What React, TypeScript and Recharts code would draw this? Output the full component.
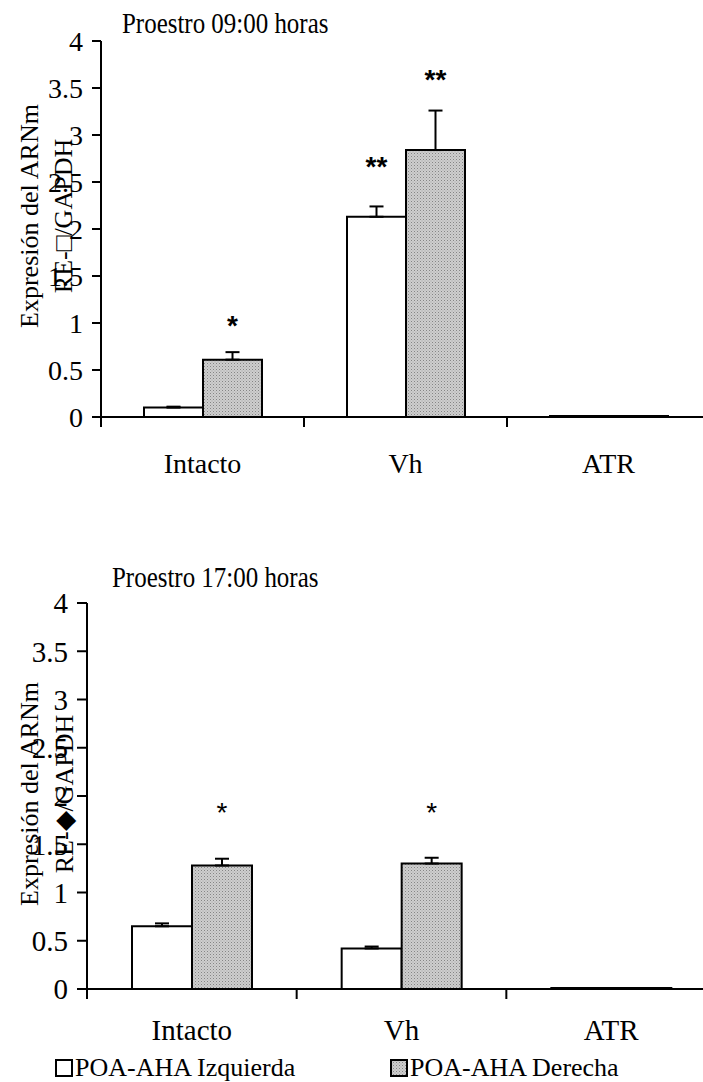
import React from 'react';
import { BarChart, Bar, XAxis, YAxis, ErrorBar, LabelList } from 'recharts';

// categories and axis ticks
const groups = ['Intacto', 'Vh', 'ATR'];
const yTicks = [0, 0.5, 1, 1.5, 2, 2.5, 3, 3.5, 4];
const seriesNames = ['POA-AHA Izquierda', 'POA-AHA Derecha'];

// Proestro 09:00 horas
const amIzq = [0.1, 2.13, 0.01];
const amIzqErr = [0.01, 0.11, 0];
const amDer = [0.61, 2.84, 0.01];
const amDerErr = [0.08, 0.42, 0];
const amIzqSig = ['', '**', ''];
const amIzqSigAt = [0, 2.7, 0];
const amDerSig = ['*', '**', ''];
const amDerSigAt = [1.01, 3.63, 0];

// Proestro 17:00 horas
const pmIzq = [0.65, 0.42, 0.01];
const pmIzqErr = [0.03, 0.02, 0];
const pmDer = [1.28, 1.3, 0.01];
const pmDerErr = [0.07, 0.06, 0];
const pmIzqSig = ['', '', ''];
const pmIzqSigAt = [0, 0, 0];
const pmDerSig = ['*', '*', ''];
const pmDerSigAt = [1.87, 1.87, 0];

const buildRows = (izq: number[], izqErr: number[], der: number[], derErr: number[],
  izqSig: string[], izqSigAt: number[], derSig: string[], derSigAt: number[]) =>
  groups.map((name, i) => ({
    name,
    izq: izq[i],
    der: der[i],
    izqErr: [0, izqErr[i]],
    derErr: [0, derErr[i]],
    izqSig: izqSig[i],
    izqSigAt: izqSigAt[i],
    derSig: derSig[i],
    derSigAt: derSigAt[i],
  }));

const amRows = buildRows(amIzq, amIzqErr, amDer, amDerErr, amIzqSig, amIzqSigAt, amDerSig, amDerSigAt);
const pmRows = buildRows(pmIzq, pmIzqErr, pmDer, pmDerErr, pmIzqSig, pmIzqSigAt, pmDerSig, pmDerSigAt);

const SERIF = "'Liberation Serif', 'Times New Roman', serif";
const SANS = "'Liberation Sans', Arial, sans-serif";

// category label + tick marks at the band edges
const CatTick = (props: any) => {
  const { x, y, payload, index, labelDy, tickLen, fontSize, bandHalf } = props;
  const half = payload && payload.offset ? payload.offset : bandHalf;
  return (
    <g>
      <line x1={x - half} y1={y} x2={x - half} y2={y + tickLen} stroke="#000" strokeWidth={2} />
      {index === groups.length - 1 && (
        <line x1={x + half} y1={y} x2={x + half} y2={y + tickLen} stroke="#000" strokeWidth={2} />
      )}
      <text x={x} y={y + labelDy} textAnchor="middle" fontSize={fontSize} fill="#000" fontFamily={SERIF}>
        {payload.value}
      </text>
    </g>
  );
};

// significance marks placed at a data level above the bar
const starContent = (rows: any[], key: string, bold: boolean) => (props: any) => {
  const vb = props.viewBox || props;
  const row = rows[props.index];
  if (!row || !row[key + 'Sig']) return null;
  const pxPerUnit = vb.height / row[key];
  const cy = vb.y + vb.height - row[key + 'SigAt'] * pxPerUnit;
  return (
    <text x={vb.x + vb.width / 2} y={cy + 13} textAnchor="middle" fontSize={28}
      fontWeight={bold ? 'bold' : 'normal'} fontFamily={SANS} fill="#000">
      {row[key + 'Sig']}
    </text>
  );
};

const yLabel = (cx: number, cy: number, second: string) => () => (
  <text transform={`rotate(-90 ${cx} ${cy})`} x={cx} y={cy} textAnchor="middle"
    fontSize={26} fill="#000" fontFamily={SERIF}>
    <tspan x={cx} dy={0}>Expresión del ARNm</tspan>
    <tspan x={cx} dy={34.5}>{second}</tspan>
  </text>
);

interface PanelProps {
  rows: any[];
  height: number;
  margin: { top: number; right: number; bottom: number; left: number };
  yWidth: number;
  tickSize: number;
  tickFont: number;
  labelDy: number;
  bandHalf: number;
  barSize: number;
  labelX: number;
  labelY: number;
  second: string;
  boldStars: boolean;
}

const Panel: React.FC<PanelProps> = (p) => (
  <BarChart width={720} height={p.height} data={p.rows} margin={p.margin} barGap={0} barSize={p.barSize}>
    <XAxis
      dataKey="name"
      height={60}
      interval={0}
      axisLine={{ stroke: '#000', strokeWidth: 2 }}
      tickLine={false}
      tickSize={0}
      tickMargin={0}
      tick={<CatTick labelDy={p.labelDy} tickLen={10} fontSize={p.tickFont} bandHalf={p.bandHalf} />}
    />
    <YAxis
      domain={[0, 4]}
      ticks={yTicks}
      interval={0}
      width={p.yWidth}
      tickSize={p.tickSize}
      tickMargin={9}
      axisLine={{ stroke: '#000', strokeWidth: 2 }}
      tickLine={{ stroke: '#000', strokeWidth: 2 }}
      tick={{ fill: '#000', fontSize: p.tickFont, fontFamily: SERIF }}
      label={{ content: yLabel(p.labelX, p.labelY, p.second) }}
    />
    <Bar dataKey="izq" name={seriesNames[0]} fill="#ffffff" stroke="#000" strokeWidth={2} isAnimationActive={false}>
      <ErrorBar dataKey="izqErr" width={7} stroke="#000" strokeWidth={2} direction="y" />
      <LabelList dataKey="izqSig" content={starContent(p.rows, 'izq', p.boldStars)} />
    </Bar>
    <Bar dataKey="der" name={seriesNames[1]} fill="url(#grayDots)" stroke="#000" strokeWidth={2} isAnimationActive={false}>
      <ErrorBar dataKey="derErr" width={7} stroke="#000" strokeWidth={2} direction="y" />
      <LabelList dataKey="derSig" content={starContent(p.rows, 'der', p.boldStars)} />
    </Bar>
  </BarChart>
);

const Swatch = ({ fill }: { fill: string }) => (
  <svg width={18} height={18} style={{ display: 'block' }}>
    <rect x={1} y={1} width={16} height={16} fill={fill} stroke="#000" strokeWidth={2} />
  </svg>
);

const titleStyle = (left: number, top: number): React.CSSProperties => ({
  position: 'absolute', left, top, fontSize: 29, lineHeight: '29px', whiteSpace: 'nowrap',
  transform: 'scaleX(0.86)', transformOrigin: 'left top',
});

const legendStyle = (left: number): React.CSSProperties => ({
  position: 'absolute', left, top: 1055, fontSize: 26, lineHeight: '26px',
  display: 'flex', alignItems: 'center', whiteSpace: 'nowrap',
});

const App: React.FC = () => (
  <div style={{ position: 'absolute', left: 0, top: 0, width: 703, height: 1082, overflow: 'hidden', background: '#fff', fontFamily: SERIF }}>
    <svg width={0} height={0} style={{ position: 'absolute' }}>
      <defs>
        <pattern id="grayDots" width={3} height={3} patternUnits="userSpaceOnUse">
          <rect width={3} height={3} fill="#cecece" />
          <rect width={1} height={1} fill="#858585" />
          <rect x={1.5} y={1.5} width={1} height={1} fill="#a4a4a4" />
        </pattern>
      </defs>
    </svg>

    <div style={{ position: 'absolute', left: 0, top: 0 }}>
      <Panel rows={amRows} height={490} margin={{ top: 41, right: 10, bottom: 13, left: 0 }}
        yWidth={101} tickSize={9} tickFont={28} labelDy={56} bandHalf={101.5} barSize={59}
        labelX={37.5} labelY={216} second={'RE-\u25A1/GAPDH'} boldStars={true} />
    </div>
    <div style={titleStyle(122, 9)}>Proestro 09:00 horas</div>

    <div style={{ position: 'absolute', left: 0, top: 540 }}>
      <Panel rows={pmRows} height={542} margin={{ top: 63, right: 4, bottom: 33, left: 0 }}
        yWidth={87} tickSize={10} tickFont={29} labelDy={51} bandHalf={104.8} barSize={60}
        labelX={38} labelY={254} second={'RE-\u25C6/GAPDH'} boldStars={false} />
    </div>
    <div style={titleStyle(112, 563)}>Proestro 17:00 horas</div>

    <div style={legendStyle(55)}>
      <Swatch fill="#ffffff" />
      <span style={{ marginLeft: 2 }}>{seriesNames[0]}</span>
    </div>
    <div style={legendStyle(390)}>
      <Swatch fill="url(#grayDots)" />
      <span style={{ marginLeft: 2 }}>{seriesNames[1]}</span>
    </div>
  </div>
);

export default App;
